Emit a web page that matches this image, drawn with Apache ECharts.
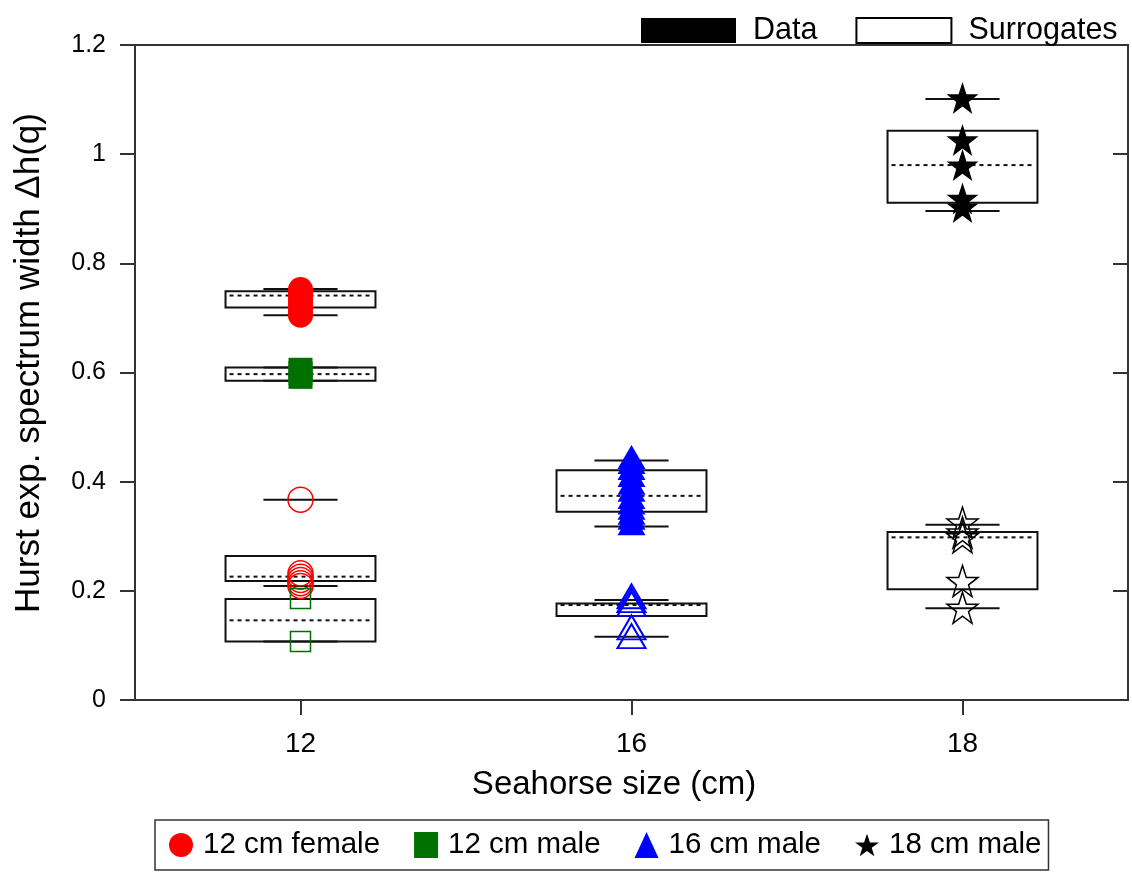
<!DOCTYPE html>
<html>
<head>
<meta charset="utf-8">
<script src="https://cdn.jsdelivr.net/npm/echarts@6/dist/echarts.min.js"></script>
<style>
html,body{margin:0;padding:0;background:#fff;}
#chart{width:1132px;height:876px;}
</style>
</head>
<body>
<div id="chart"></div>
<script>
// ---- data ----
const categories = ['12', '16', '18'];
// boxes: [categoryIndex, lowWhisker, q1, median, q3, highWhisker]
const dataBoxes = [
  [0, 0.705, 0.719, 0.741, 0.749, 0.753],
  [0, 0.585, 0.585, 0.597, 0.609, 0.609],
  [1, 0.318, 0.345, 0.374, 0.421, 0.439],
  [2, 0.896, 0.911, 0.980, 1.043, 1.101]
];
const surrogateBoxes = [
  [0, 0.209, 0.218, 0.226, 0.264, 0.367],
  [0, 0.107, 0.107, 0.146, 0.185, 0.185],
  [1, 0.116, 0.154, 0.174, 0.177, 0.183],
  [2, 0.168, 0.203, 0.298, 0.308, 0.321]
];
// individual values (data)
const female12Data = [0.752, 0.745, 0.737, 0.729, 0.721, 0.713, 0.705];
const male12Data = [0.605, 0.599, 0.592];
const male16Data = [0.445, 0.436, 0.425, 0.412, 0.398, 0.385, 0.372, 0.362, 0.352, 0.343, 0.334, 0.324];
const male18Data = [1.103, 1.026, 0.980, 0.919, 0.903];
// individual values (surrogates)
const female12Surr = [0.367, 0.232, 0.226, 0.220, 0.214, 0.209];
const male12Surr = [0.186, 0.107];
const male16Surr = [0.190, 0.183, 0.176, 0.133, 0.117];
const male18Surr = [0.325, 0.307, 0.298, 0.218, 0.169];

const legendNames = ['12 cm female', '12 cm male', '16 cm male', '18 cm male'];

// ---- styles ----
const FONT = "'Liberation Sans', Arial, sans-serif";
const STAR = 'path://M50,0 L61.8,35.1 L98.1,35.1 L68.8,56.8 L79.4,91.0 L50,70 L20.6,91.0 L31.2,56.8 L1.9,35.1 L38.2,35.1 Z';
const RED = '#ff0000', GREEN = '#007000', BLUE = '#0000ff', BLACK = '#000000';

function renderBox(params, api) {
  const c = api.value(0);
  const band = api.size([1, 0])[0];
  const boxW = band * 0.453, capW = band * 0.224;
  const pLow = api.coord([c, api.value(1)]);
  const pQ1 = api.coord([c, api.value(2)]);
  const pMed = api.coord([c, api.value(3)]);
  const pQ3 = api.coord([c, api.value(4)]);
  const pHigh = api.coord([c, api.value(5)]);
  const cx = pMed[0];
  const lineStyle = { stroke: '#111', lineWidth: 2, fill: null };
  return {
    type: 'group',
    children: [
      { type: 'line', shape: { x1: cx - capW / 2, y1: pHigh[1], x2: cx + capW / 2, y2: pHigh[1] }, style: lineStyle },
      { type: 'line', shape: { x1: cx - capW / 2, y1: pLow[1], x2: cx + capW / 2, y2: pLow[1] }, style: lineStyle },
      { type: 'rect', shape: { x: cx - boxW / 2, y: pQ3[1], width: boxW, height: pQ1[1] - pQ3[1] }, style: { stroke: '#111', lineWidth: 2, fill: 'rgba(255,255,255,0)' } },
      { type: 'line', shape: { x1: cx - boxW / 2 + 4, y1: pMed[1], x2: cx + boxW / 2 - 4, y2: pMed[1] }, style: { stroke: '#111', lineWidth: 2, lineDash: [4, 4], fill: null } }
    ]
  };
}

function pts(cat, arr) { return arr.map(v => [cat, v]); }

const chart = echarts.init(document.getElementById('chart'));
const option = {
  animation: false,
  backgroundColor: '#fff',
  textStyle: { fontFamily: FONT, color: '#000' },
  grid: { left: 135, right: 4, top: 45, bottom: 176, show: true, borderColor: '#333', borderWidth: 2, backgroundColor: 'transparent' },
  legend: [
    {
      data: ['Data', 'Surrogates'],
      left: 636, top: 10,
      itemWidth: 95, itemHeight: 25, itemGap: 38,
      icon: 'rect',
      textStyle: { fontFamily: FONT, fontSize: 30.5, color: '#000', padding: [0, 0, 0, 12] },
      selectedMode: false
    },
    {
      data: [
        { name: legendNames[0], icon: 'circle' },
        { name: legendNames[1], icon: 'rect' },
        { name: legendNames[2], icon: 'triangle' },
        { name: legendNames[3], icon: STAR }
      ],
      left: 155, top: 820,
      padding: [10, 7, 10, 14],
      borderColor: '#333', borderWidth: 1.5,
      itemWidth: 24, itemHeight: 26, itemGap: 34,
      textStyle: { fontFamily: FONT, fontSize: 29.5, color: '#000', padding: [0, 0, 0, 5] },
      selectedMode: false
    }
  ],
  xAxis: [
    {
      type: 'category', data: categories, position: 'bottom',
      axisLine: { show: true, lineStyle: { color: '#333', width: 2 } },
      axisTick: { show: true, alignWithLabel: true, length: 15, lineStyle: { color: '#333', width: 2 } },
      axisLabel: { fontFamily: FONT, fontSize: 28, color: '#000', margin: 30 },
      name: 'Seahorse size (cm)', nameLocation: 'middle', nameGap: 68,
      nameTextStyle: { fontFamily: FONT, fontSize: 33, color: '#000', padding: [0, 35, 0, 0] },
      splitLine: { show: false }
    }
  ],
  yAxis: [
    {
      type: 'value', min: 0, max: 1.2, interval: 0.2, position: 'left',
      axisLine: { show: true, lineStyle: { color: '#333', width: 2 } },
      axisTick: { show: true, length: 15, lineStyle: { color: '#333', width: 2 } },
      axisLabel: { fontFamily: FONT, fontSize: 25, color: '#000', margin: 29 },
      splitLine: { show: false },
      name: 'Hurst exp. spectrum width \u0394h(q)', nameLocation: 'middle', nameGap: 88, nameRotate: 90,
      nameTextStyle: { fontFamily: FONT, fontSize: 35, color: '#000', padding: [0, 0, 0, 19] }
    },
    {
      type: 'value', min: 0, max: 1.2, interval: 0.2, position: 'right',
      axisLine: { show: true, lineStyle: { color: '#333', width: 2 } },
      axisTick: { show: true, inside: true, length: 15, lineStyle: { color: '#333', width: 2 } },
      axisLabel: { show: false },
      splitLine: { show: false }
    }
  ],
  series: [
    { name: 'Data', type: 'scatter', data: [], itemStyle: { color: '#000', opacity: 1 } },
    { name: 'Surrogates', type: 'scatter', data: [], itemStyle: { color: '#fff', borderColor: '#000', borderWidth: 1.5, opacity: 1 } },
    { name: 'data boxes', type: 'custom', renderItem: renderBox, data: dataBoxes, encode: { x: 0, y: [1, 2, 3, 4, 5] }, z: 2 },
    { name: 'surrogate boxes', type: 'custom', renderItem: renderBox, data: surrogateBoxes, encode: { x: 0, y: [1, 2, 3, 4, 5] }, z: 2 },
    // surrogates (open symbols)
    { name: 'female12 surr', type: 'scatter', data: pts(0, female12Surr), symbol: 'circle', symbolSize: 25, z: 3,
      itemStyle: { color: 'rgba(0,0,0,0)', borderColor: RED, borderWidth: 1.5, opacity: 1 } },
    { name: 'male12 surr', type: 'scatter', data: pts(0, male12Surr), symbol: 'rect', symbolSize: 20, z: 3,
      itemStyle: { color: 'rgba(0,0,0,0)', borderColor: GREEN, borderWidth: 1.5, opacity: 1 } },
    { name: 'male16 surr', type: 'scatter', data: pts(1, male16Surr), symbol: 'triangle', symbolSize: [28, 24], z: 3,
      itemStyle: { color: 'rgba(0,0,0,0)', borderColor: BLUE, borderWidth: 2, opacity: 1 } },
    { name: 'male18 surr', type: 'scatter', data: pts(2, male18Surr), symbol: STAR, symbolSize: 31, z: 3,
      itemStyle: { color: 'rgba(0,0,0,0)', borderColor: BLACK, borderWidth: 1.5, opacity: 1 } },
    // data (filled symbols)
    { name: legendNames[0], type: 'scatter', data: pts(0, female12Data), symbol: 'circle', symbolSize: 25, z: 4,
      itemStyle: { color: RED, opacity: 1 } },
    { name: legendNames[1], type: 'scatter', data: pts(0, male12Data), symbol: 'rect', symbolSize: 24, z: 4,
      itemStyle: { color: GREEN, opacity: 1 } },
    { name: legendNames[2], type: 'scatter', data: pts(1, male16Data), symbol: 'triangle', symbolSize: [28, 24], z: 4,
      itemStyle: { color: BLUE, opacity: 1 } },
    { name: legendNames[3], type: 'scatter', data: pts(2, male18Data), symbol: STAR, symbolSize: 32, z: 4,
      itemStyle: { color: BLACK, opacity: 1 } }
  ]
};
chart.setOption(option);
</script>
</body>
</html>
